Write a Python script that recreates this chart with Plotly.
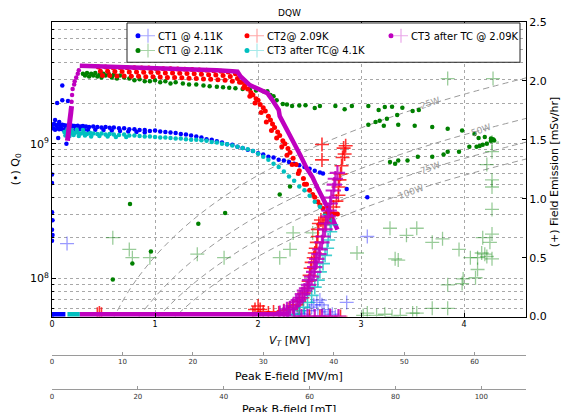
import plotly.graph_objects as go

# ---------------- DATA ----------------
Q0_UNIT = 1e9  # Q0 values below are given in units of 1e9

# CT1 @ 4.11K : (V_T [MV], Q0 [1e9])
BLUE_Q0 = [
    (0.0, 0.59), (0.0, 0.51), (0.0, 0.31), (0.005, 0.27), (0.0, 0.23), (0.005, 0.21), (0.0, 0.19), (0.0, 0.053),
    (0.03, 1.5), (0.05, 2.0), (0.1, 2.7), (0.1, 2.1), (0.06, 1.1), (0.14, 1.0), (0.07, 1.45), (0.155, 2.07),
    (0.0, 1.38), (0.02, 1.4), (0.04, 1.37), (0.06, 1.39), (0.08, 1.36), (0.1, 1.38), (0.12, 1.37), (0.14, 1.36),
    (0.16, 1.37), (0.18, 1.35), (0.2, 1.36), (0.22, 1.35), (0.25, 1.36), (0.28, 1.34), (0.3, 1.35), (0.33, 1.34),
    (0.36, 1.33), (0.4, 1.34), (0.44, 1.33), (0.48, 1.32), (0.52, 1.33), (0.56, 1.31), (0.6, 1.32), (0.65, 1.3),
    (0.7, 1.3), (0.75, 1.28), (0.8, 1.28), (0.85, 1.26), (0.9, 1.26), (0.95, 1.24), (1.0, 1.25), (1.05, 1.23),
    (1.1, 1.22), (1.15, 1.21), (1.2, 1.2), (1.25, 1.18), (1.3, 1.17), (1.35, 1.15), (1.4, 1.13), (1.45, 1.11),
    (1.5, 1.08), (1.55, 1.07), (1.6, 1.04), (1.65, 1.02), (1.7, 0.99), (1.75, 0.98), (1.8, 0.95), (1.85, 0.93),
    (1.9, 0.9), (1.95, 0.88), (2.0, 0.85), (2.05, 0.83), (2.1, 0.8), (2.15, 0.79), (2.2, 0.76), (2.25, 0.75),
    (2.3, 0.73), (2.35, 0.71), (2.4, 0.69), (2.45, 0.67), (2.5, 0.65), (2.55, 0.63), (2.6, 0.61), (2.63, 0.6),
    (0.01, 1.3), (0.03, 1.27), (0.05, 1.3), (0.07, 1.28), (0.09, 1.29), (0.11, 1.27), (0.13, 1.29), (0.15, 1.28),
    (0.19, 1.28), (0.23, 1.27), (0.27, 1.28), (0.31, 1.27), (0.35, 1.26), (0.42, 1.27), (0.5, 1.26), (0.58, 1.25),
    (0.66, 1.24), (0.74, 1.23), (0.82, 1.22), (0.9, 1.21),
    (2.86, 0.46), (3.06, 0.4),
]

# CT1 @ 2.11K
GREEN_Q0 = [
    (0.3, 3.3), (0.32, 3.2), (0.34, 3.35), (0.36, 3.15), (0.38, 3.3), (0.4, 3.2), (0.42, 3.35), (0.44, 3.15),
    (0.46, 3.25), (0.48, 3.1), (0.5, 3.3), (0.52, 3.2), (0.55, 3.3), (0.58, 3.1), (0.6, 3.25), (0.63, 3.05),
    (0.66, 3.2), (0.7, 3.1), (0.75, 3.05), (0.8, 2.95), (0.85, 3.0), (0.9, 2.9), (0.95, 2.9), (1.0, 2.95),
    (1.05, 2.85), (1.1, 2.9), (1.15, 2.8), (1.2, 2.85), (1.27, 2.8), (1.33, 2.75), (1.4, 2.75), (1.47, 2.7),
    (1.53, 2.67), (1.6, 2.65), (1.66, 2.62), (1.72, 2.6), (1.78, 2.58), (1.85, 2.55), (1.92, 2.52), (1.98, 2.48),
    (2.05, 2.45), (2.09, 2.45), (2.12, 2.3), (2.15, 2.25), (2.18, 2.1), (2.24, 1.97), (2.28, 1.95), (2.33, 1.9),
    (2.4, 1.92), (2.46, 1.93), (2.55, 1.84), (2.6, 1.9), (2.75, 1.9), (2.84, 1.8), (2.91, 1.9), (3.07, 1.9),
    (3.17, 1.78), (3.23, 1.87), (3.3, 1.88), (3.4, 1.85), (3.5, 1.75), (3.56, 1.78),
    (3.07, 1.38), (3.14, 1.45), (3.18, 1.48), (3.22, 1.36), (3.25, 1.53), (3.35, 1.63), (3.36, 1.38), (3.52, 1.36),
    (3.69, 1.33), (3.84, 1.29), (3.98, 1.25), (4.1, 1.18), (4.14, 1.1), (4.2, 1.12),
    (3.28, 0.73), (3.33, 0.71), (3.36, 0.75), (3.45, 0.75), (3.55, 0.8), (3.69, 0.8), (3.8, 0.83), (3.84, 0.87),
    (3.95, 0.87), (4.05, 0.95), (4.12, 0.95), (4.15, 0.96), (4.18, 0.98), (4.22, 1.0), (4.26, 1.05), (4.27, 1.07),
    (4.28, 1.08), (4.26, 1.09), (4.29, 1.06),
    (0.59, 0.098), (0.757, 0.356), (0.78, 0.129), (0.96, 0.158), (1.42, 0.254), (1.68, 0.306), (2.21, 0.42), (2.31, 0.48),
]

# CT2 @ 2.09K
RED_Q0 = [
    (0.45, 3.7), (0.47, 3.45), (0.49, 3.2), (0.52, 3.7), (0.54, 3.45), (0.56, 3.2),
    (0.59, 3.68), (0.61, 3.43), (0.63, 3.18), (0.66, 3.68), (0.68, 3.43), (0.7, 3.18),
    (0.73, 3.66), (0.75, 3.41), (0.77, 3.16), (0.8, 3.66), (0.82, 3.41), (0.84, 3.16),
    (0.87, 3.64), (0.89, 3.39), (0.91, 3.14), (0.94, 3.64), (0.96, 3.39), (0.98, 3.14),
    (1.01, 3.62), (1.03, 3.37), (1.05, 3.12), (1.08, 3.6), (1.1, 3.35), (1.12, 3.1),
    (1.15, 3.6), (1.17, 3.35), (1.19, 3.1), (1.22, 3.58), (1.24, 3.33), (1.26, 3.08),
    (1.29, 3.56), (1.31, 3.31), (1.33, 3.06), (1.36, 3.55), (1.38, 3.3), (1.4, 3.05),
    (1.43, 3.52), (1.45, 3.27), (1.47, 3.02), (1.5, 3.5), (1.52, 3.25), (1.54, 3.0),
    (1.57, 3.48), (1.59, 3.23), (1.61, 2.98), (1.64, 3.45), (1.66, 3.2), (1.68, 2.95),
    (1.71, 3.4), (1.73, 3.15), (1.75, 2.9), (1.78, 3.3), (1.8, 3.05), (1.82, 2.85),
    (1.84, 2.85), (1.87, 2.7), (1.9, 2.55), (1.93, 2.4), (1.95, 2.3), (1.98, 2.15), (2.0, 2.1), (2.02, 1.95),
    (2.05, 1.85), (2.07, 1.75), (2.1, 1.6), (2.12, 1.5), (2.14, 1.4), (2.16, 1.32), (2.19, 1.22), (2.21, 1.15),
    (2.24, 1.05), (2.26, 1.0), (2.29, 0.92), (2.31, 0.86), (2.34, 0.78), (2.37, 0.7), (2.4, 0.63), (2.44, 0.55),
    (2.47, 0.5), (2.5, 0.45), (2.53, 0.42), (2.55, 0.4), (2.58, 0.37), (2.6, 0.35), (2.63, 0.33), (2.67, 0.31),
    (2.7, 0.31), (2.74, 0.3), (2.77, 0.3),
    (1.86, 2.6), (1.92, 2.25), (1.97, 2.0), (2.03, 1.7), (2.08, 1.45), (2.13, 1.25), (2.18, 1.1), (2.23, 0.95),
    (2.28, 0.82), (2.33, 0.7), (2.39, 0.6), (2.45, 0.5),
]

# CT3 after TC @ 4.1K
CYAN_Q0 = [
    (0.12, 1.22), (0.14, 1.2), (0.16, 1.23), (0.18, 1.19), (0.2, 1.21), (0.22, 1.2), (0.25, 1.21), (0.28, 1.19),
    (0.31, 1.2), (0.34, 1.18), (0.37, 1.2), (0.4, 1.19), (0.44, 1.18), (0.48, 1.19), (0.52, 1.17), (0.56, 1.18),
    (0.6, 1.17), (0.65, 1.16), (0.7, 1.17), (0.75, 1.15), (0.8, 1.15), (0.85, 1.14), (0.9, 1.13), (0.95, 1.13),
    (1.0, 1.12), (1.05, 1.11), (1.1, 1.11), (1.15, 1.1), (1.2, 1.09), (1.25, 1.09), (1.3, 1.08), (1.35, 1.07),
    (1.4, 1.07), (1.45, 1.06), (1.5, 1.05), (1.55, 1.03), (1.6, 1.02), (1.65, 1.0), (1.7, 0.99), (1.75, 0.97),
    (1.8, 0.95), (1.85, 0.93), (1.9, 0.91), (1.95, 0.88), (2.0, 0.84), (2.05, 0.8), (2.1, 0.76), (2.15, 0.71),
    (2.2, 0.67), (2.25, 0.62), (2.3, 0.57), (2.35, 0.53), (2.4, 0.48), (2.45, 0.45), (2.5, 0.41), (2.55, 0.37),
    (2.6, 0.34), (2.65, 0.3), (2.7, 0.27),
    (0.13, 1.15), (0.17, 1.14), (0.21, 1.16), (0.26, 1.14), (0.32, 1.15), (0.38, 1.13), (0.46, 1.14), (0.54, 1.13),
    (0.62, 1.12), (0.72, 1.12), (0.15, 1.28), (0.19, 1.26), (0.24, 1.27), (0.3, 1.26),
]

# CT3 after TC @ 2.09K
MAGENTA_Q0_RISE = [(0.15, 1.05), (0.19, 1.9)]
MAGENTA_Q0_DOTS = [(0.19, 2.05), (0.195, 2.3), (0.2, 2.55), (0.215, 2.75), (0.22, 2.9), (0.235, 3.1), (0.25, 3.3), (0.26, 3.5)]
MAGENTA_Q0_CURVE = [
    (0.27, 3.78), (0.5, 3.74), (0.8, 3.68), (1.0, 3.64), (1.2, 3.6), (1.4, 3.55), (1.6, 3.5), (1.75, 3.45),
    (1.8, 3.42), (1.83, 3.15), (1.87, 2.95), (1.92, 2.72), (2.0, 2.55), (2.09, 2.37), (2.13, 2.15), (2.17, 1.93),
    (2.2, 1.78), (2.21, 1.6), (2.23, 1.5), (2.28, 1.25), (2.34, 1.05), (2.41, 0.82), (2.47, 0.66), (2.53, 0.56),
    (2.57, 0.48), (2.62, 0.41), (2.67, 0.34), (2.72, 0.28), (2.77, 0.23),
]

# Field emission (+) : (V_T [MV], dose rate [mSv/hr])
BLUE_FE_ZERO = [(0.0, 0.0), (0.13, 0.0)]
BLUE_FE = [(0.146, 0.62), (2.35, 0.02), (2.4, 0.03), (2.45, 0.02), (2.5, 0.05), (2.52, 0.08), (2.54, 0.1),
           (2.57, 0.12), (2.6, 0.14), (2.62, 0.1), (2.64, 0.06), (2.68, 0.04), (2.72, 0.02), (2.86, 0.12),
           (3.06, 0.68), (2.38, 0.0), (2.45, 0.0), (2.58, 0.0), (2.65, 0.0), (2.75, 0.0)]
GREEN_FE = [(0.59, 0.67), (0.75, 0.57), (0.78, 0.5), (0.95, 0.5), (1.41, 0.53), (1.67, 0.5), (2.21, 0.5),
            (2.31, 0.57), (2.34, 0.71), (2.53, 0.71), (2.96, 0.54), (3.06, 0.03), (3.02, 0.01), (3.15, 0.01),
            (3.23, 0.02), (3.3, 0.0), (3.38, 0.01), (3.5, 0.03), (3.54, 0.03), (3.69, 0.07), (3.84, 0.07),
            (3.84, 0.27), (3.95, 0.57), (3.99, 0.32), (3.98, 0.28), (3.28, 0.75), (3.54, 0.75), (3.44, 0.69),
            (3.69, 0.63), (3.79, 0.66), (3.33, 0.49), (3.36, 0.48), (4.06, 0.5), (4.13, 0.5), (4.13, 0.4),
            (4.11, 0.33), (4.17, 0.54), (4.2, 0.53), (4.18, 0.67), (4.27, 0.7), (4.25, 0.63), (4.27, 0.49),
            (4.22, 0.51), (4.27, 0.91), (4.27, 1.1), (4.27, 1.16), (4.22, 1.29), (4.27, 1.4), (4.27, 1.48),
            (3.84, 2.02), (4.28, 2.02)]
RED_FE = [(0.44, 0.02), (0.46, 0.03), (0.48, 0.02), (1.95, 0.03), (1.97, 0.06), (2.0, 0.09), (2.02, 0.06),
          (2.05, 0.04), (2.1, 0.03), (2.15, 0.04), (2.2, 0.03), (2.25, 0.05), (2.3, 0.06), (2.34, 0.08),
          (2.38, 0.1), (2.4, 0.13), (2.43, 0.16), (2.45, 0.2), (2.48, 0.24), (2.49, 0.3), (2.5, 0.35),
          (2.51, 0.41), (2.52, 0.46), (2.54, 0.5), (2.55, 0.54), (2.56, 0.58), (2.57, 0.63), (2.58, 0.68),
          (2.58, 0.74), (2.59, 0.79), (2.61, 0.82), (2.63, 0.78), (2.65, 0.8), (2.67, 0.84), (2.62, 1.46),
          (2.62, 1.33), (2.7, 0.88), (2.73, 0.93), (2.76, 0.98), (2.78, 1.03), (2.78, 1.1), (2.79, 1.16),
          (2.8, 1.21), (2.81, 1.28), (2.82, 1.35), (2.83, 1.43), (2.85, 1.45), (2.84, 1.38),
          (2.4, 0.0), (2.5, 0.0), (2.6, 0.0), (2.7, 0.0), (2.8, 0.0)]
CYAN_FE_ZERO = [(0.15, 0.0), (0.27, 0.0)]
CYAN_FE = [(2.3, 0.01), (2.35, 0.02), (2.4, 0.05), (2.44, 0.08), (2.48, 0.12), (2.52, 0.18), (2.55, 0.25),
           (2.58, 0.31), (2.6, 0.38), (2.63, 0.45), (2.65, 0.52), (2.67, 0.58), (2.68, 0.65), (2.7, 0.72),
           (2.71, 0.78)]
MAGENTA_FE_ZERO = [(0.27, 0.0), (2.3, 0.0)]
MAGENTA_FE = [(2.21, 0.03), (2.25, 0.04), (2.28, 0.06), (2.31, 0.07), (2.34, 0.09), (2.37, 0.12), (2.39, 0.14),
              (2.41, 0.16), (2.43, 0.19), (2.45, 0.22), (2.47, 0.24), (2.49, 0.27), (2.5, 0.31), (2.52, 0.34),
              (2.54, 0.38), (2.55, 0.42), (2.56, 0.46), (2.57, 0.49), (2.59, 0.53), (2.6, 0.57), (2.62, 0.63),
              (2.63, 0.68), (2.65, 0.74), (2.66, 0.79), (2.68, 0.85), (2.69, 0.9), (2.7, 0.96), (2.71, 1.01),
              (2.73, 1.07), (2.74, 1.12), (2.75, 1.17), (2.77, 1.22),
              (2.35, 0.0), (2.42, 0.0), (2.48, 0.0), (2.55, 0.0), (2.62, 0.0), (2.7, 0.0), (2.78, 0.0)]

# constant-dissipation guide curves (Q0 in units of 1e9)
PWR_V = [0.5, 0.75, 1.0, 1.25, 1.5, 1.75, 2.0, 2.5, 3.0, 3.5, 4.0, 4.6]
PWR_LABELS = ["25W", "50W", "75W", "100W"]
PWR_Q = [
    [0.0364, 0.0818, 0.1455, 0.227, 0.327, 0.445, 0.582, 0.909, 1.309, 1.782, 2.327, 3.078],
    [0.0182, 0.0409, 0.0727, 0.1136, 0.1636, 0.2227, 0.2909, 0.4545, 0.6545, 0.891, 1.164, 1.539],
    [0.0121, 0.0273, 0.0485, 0.0758, 0.1091, 0.1485, 0.1939, 0.303, 0.4364, 0.594, 0.776, 1.026],
    [0.0091, 0.0205, 0.0364, 0.0568, 0.0818, 0.1114, 0.1455, 0.2273, 0.3273, 0.4455, 0.582, 0.769],
]
PWR_LABEL_POS = [(3.67, 9.30), (4.16, 9.10), (3.67, 8.82), (3.48, 8.64)]  # (V, log10 Q0)

SERIES_NAMES = ["CT1 @ 4.11K", "CT1 @ 2.11K", "CT2@ 2.09K", "CT3 after TC@ 4.1K", "CT3 after TC @ 2.09K"]

# axis ranges / ticks
V_MAX = 4.6
E_MAX = 67.3
B_MAX = 110.4
E_TICKS = [0, 10, 20, 30, 40, 50, 60]
B_TICKS = [0, 20, 40, 60, 80, 100]
FE_TICKS = [0.0, 0.5, 1.0, 1.5, 2.0, 2.5]

# ---------------- STYLE ----------------
BLUE, GREEN, RED, CYAN, MAG = "#0000ff", "#008000", "#ff0000", "#00bfbf", "#bf00bf"
CROSS_RGBA = {BLUE: "rgba(0,0,255,0.4)", GREEN: "rgba(0,128,0,0.4)", RED: "rgba(255,0,0,0.8)",
              CYAN: "rgba(0,191,191,0.75)", MAG: "rgba(191,0,191,0.85)"}
LEGEND_CROSS = {BLUE: "rgba(0,0,255,0.35)", GREEN: "rgba(0,128,0,0.35)", RED: "rgba(255,0,0,0.35)",
                CYAN: "rgba(0,191,191,0.35)", MAG: "rgba(191,0,191,0.35)"}
FONT = "DejaVu Sans"
W, H = 563, 412
L, R, T = 52, 37, 22
PLOT_BOTTOM = 322
PH = H - T  # paper height (b margin = 0)


def unzip(pairs, scale=1.0):
    return [p[0] for p in pairs], [p[1] * scale for p in pairs]


def py(pix):  # pixel y -> paper y
    return (H - pix) / PH


def px(pix):  # pixel x -> paper x
    return (pix - L) / (W - L - R)


fig = go.Figure()

# guide curves
for q in PWR_Q:
    fig.add_trace(go.Scatter(x=PWR_V, y=[v * Q0_UNIT for v in q], mode="lines", line_shape="spline",
                             line=dict(color="#9a9a9a", width=1, dash="6px,4px"),
                             showlegend=False, hoverinfo="skip"))


def dots(pairs, color, size=4.5):
    x, y = unzip(pairs, Q0_UNIT)
    fig.add_trace(go.Scatter(x=x, y=y, mode="markers", marker=dict(color=color, size=size, line=dict(width=0)),
                             showlegend=False, hoverinfo="skip"))


dots(BLUE_Q0, BLUE)
dots(GREEN_Q0, GREEN)
dots(RED_Q0, RED, 5)
dots(CYAN_Q0, CYAN)
x, y = unzip(MAGENTA_Q0_RISE, Q0_UNIT)
fig.add_trace(go.Scatter(x=x, y=y, mode="lines", line=dict(color=MAG, width=5), showlegend=False, hoverinfo="skip"))
dots(MAGENTA_Q0_DOTS, MAG)
x, y = unzip(MAGENTA_Q0_CURVE, Q0_UNIT)
fig.add_trace(go.Scatter(x=x, y=y, mode="lines", line=dict(color=MAG, width=4.5), showlegend=False, hoverinfo="skip"))


def zero_band(pairs, color):
    x, y = unzip(pairs)
    fig.add_trace(go.Scatter(x=x, y=y, yaxis="y2", mode="lines", line=dict(color=color, width=9),
                             showlegend=False, hoverinfo="skip"))


def crosses(pairs, color, size=10, width=1.3):
    x, y = unzip(pairs)
    fig.add_trace(go.Scatter(x=x, y=y, yaxis="y2", mode="markers",
                             marker=dict(symbol="cross-thin", size=size, line=dict(color=CROSS_RGBA[color], width=width)),
                             showlegend=False, hoverinfo="skip"))


zero_band(BLUE_FE_ZERO, BLUE)
crosses(BLUE_FE, BLUE)
crosses(GREEN_FE, GREEN)
crosses(RED_FE, RED, 10, 1.6)
zero_band(CYAN_FE_ZERO, CYAN)
crosses(CYAN_FE, CYAN, 10, 1.6)
zero_band(MAGENTA_FE_ZERO, MAG)
crosses(MAGENTA_FE, MAG, 11, 2.2)

# dummy traces so that the extra bottom axes exist
fig.add_trace(go.Scatter(x=[0], y=[1e9], xaxis="x2", mode="markers", marker=dict(opacity=0),
                         showlegend=False, hoverinfo="skip"))
fig.add_trace(go.Scatter(x=[0], y=[1e9], xaxis="x3", mode="markers", marker=dict(opacity=0),
                         showlegend=False, hoverinfo="skip"))

# legend entries (one small legend per glyph so the layout matches the boxed 3-column legend)
colors = [BLUE, GREEN, RED, CYAN, MAG]
slots = [(138, 36), (138, 51), (247, 36), (247, 51), (391, 36)]  # dot position (px)
layout_legends = {}
k = 1
for name, col, (sx, sy) in zip(SERIES_NAMES, colors, slots):
    for kind in ("dot", "cross"):
        lname = "legend" if k == 1 else f"legend{k}"
        if kind == "dot":
            mk = dict(color=col, size=5, line=dict(width=0))
            nm = name
            lx = sx - 20
        else:
            mk = dict(symbol="cross-thin", size=10, line=dict(color=LEGEND_CROSS[col], width=1.2))
            nm = " "
            lx = sx + 10 - 20
        fig.add_trace(go.Scatter(x=[None], y=[None], mode="markers", marker=mk, name=nm, legend=lname,
                                 showlegend=True, hoverinfo="skip"))
        layout_legends[lname] = dict(x=px(lx), y=py(sy), xanchor="left", yanchor="middle",
                                     bgcolor="rgba(0,0,0,0)", borderwidth=0,
                                     font=dict(family=FONT, size=10, color="black"), itemwidth=30)
        k += 1

grid = dict(showgrid=True, gridcolor="#a8a8a8", griddash="dot", gridwidth=1)
minor_q = [6e7, 7e7, 8e7, 9e7] + [m * 1e8 for m in range(2, 10)] + [m * 1e9 for m in range(2, 8)]

fig.update_layout(
    width=W, height=H,
    margin=dict(l=L, r=R, t=T, b=0, pad=0),
    paper_bgcolor="white", plot_bgcolor="white",
    font=dict(family=FONT, color="black"),
    showlegend=True,
    xaxis=dict(domain=[0, 1], anchor="y", range=[0, V_MAX], tickvals=[0, 1, 2, 3, 4],
               ticks="inside", ticklen=4, tickcolor="black", showline=True, linecolor="black", linewidth=1,
               mirror="ticks", tickfont=dict(size=8), zeroline=False, **grid),
    xaxis2=dict(overlaying="x", anchor="free", position=py(361), range=[0, E_MAX], tickvals=E_TICKS,
                ticks="inside", ticklen=3, tickcolor="#999", showline=True, linecolor="#9a9a9a", linewidth=1,
                tickfont=dict(size=7, color="#333"), showgrid=False, zeroline=False),
    xaxis3=dict(overlaying="x", anchor="free", position=py(396), range=[0, B_MAX], tickvals=B_TICKS,
                ticks="inside", ticklen=3, tickcolor="#999", showline=True, linecolor="#9a9a9a", linewidth=1,
                tickfont=dict(size=7, color="#333"), showgrid=False, zeroline=False),
    yaxis=dict(type="log", domain=[py(PLOT_BOTTOM), 1], anchor="x", range=[7.716, 9.903],
               tickvals=[1e8, 1e9], ticktext=["10<sup>8</sup>", "10<sup>9</sup>"],
               ticks="inside", ticklen=4, tickcolor="black", showline=True, linecolor="black", linewidth=1,
               tickfont=dict(size=11), zeroline=False,
               minor=dict(tickvals=minor_q, ticks="inside", ticklen=2, tickcolor="black",
                          showgrid=True, gridcolor="#a8a8a8", griddash="dot", gridwidth=1),
               **grid),
    yaxis2=dict(overlaying="y", side="right", anchor="x", range=[0, 2.5], tickvals=FE_TICKS, tickformat=".1f",
                ticks="inside", ticklen=4, tickcolor="black", showline=True, linecolor="black", linewidth=1,
                tickfont=dict(size=11), showgrid=False, zeroline=False),
    shapes=[dict(type="rect", xref="paper", yref="paper", x0=px(127), x1=px(520), y0=py(63), y1=py(23),
                 line=dict(color="#222", width=1), fillcolor="white", layer="above")],
    **layout_legends,
)

ann = [
    dict(text="DQW", x=0.5, y=py(13), font=dict(size=9)),
    dict(text="<i>V</i><sub><i>T</i></sub> [MV]", x=0.5, y=py(347), font=dict(size=11)),
    dict(text="Peak E-field [MV/m]", x=0.5, y=py(383), font=dict(size=11)),
    dict(text="Peak B-field [mT]", x=0.5, y=py(417), font=dict(size=11)),
    dict(text="(•) Q<sub>0</sub>", x=px(16), y=py(172), textangle=-90, font=dict(size=11)),
    dict(text="(+) Field Emission [mSv/hr]", x=px(554), y=py(175), textangle=-90, font=dict(size=11)),
]
for a in ann:
    fig.add_annotation(xref="paper", yref="paper", showarrow=False, xanchor="center", yanchor="middle", **a)
for lab, (lx, ly) in zip(PWR_LABELS, PWR_LABEL_POS):
    fig.add_annotation(x=lx, y=ly, xref="x", yref="y", text=lab, showarrow=False, textangle=-20,
                       font=dict(size=9, color="#9a9a9a"))

fig.write_html("out.html")
